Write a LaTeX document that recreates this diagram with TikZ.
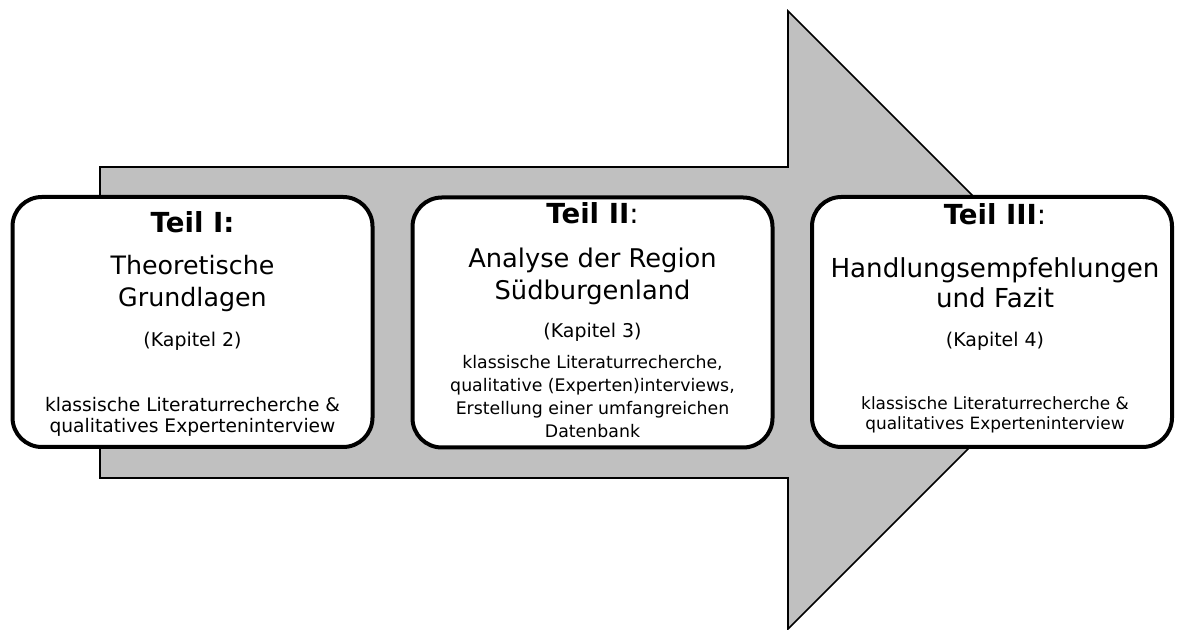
\documentclass[tikz,border=0pt]{standalone}
\usepackage{fontspec}
\setmainfont{DejaVu Sans}
\begin{document}
\begin{tikzpicture}[x=0.75pt,y=-0.75pt,
  phase/.style={draw=black,line width=3pt,rounded corners=22pt,fill=white,minimum width=270pt,minimum height=187.5pt,inner sep=0pt},
  ttl/.style={anchor=base,font=\fontsize{20.7}{24}\selectfont\bfseries},
  big/.style={anchor=base,align=center,font=\fontsize{19}{24}\selectfont},
  kap/.style={anchor=base,font=\fontsize{14.2}{17}\selectfont},
  meth/.style={anchor=base,align=center,font=\fontsize{14}{16.3}\selectfont},
]
\useasboundingbox (0,0) rectangle (1181,630);
% big arrow
\draw[fill={rgb,255:red,192;green,192;blue,192},line width=1.2pt,line join=miter]
  (100,167) -- (788,167) -- (788,11) -- (1097,320) -- (788,629) -- (788,478) -- (100,478) -- cycle;
% boxes
\node[phase] (p1) at (192.5,322) {};
\node[phase] (p2) at (592.5,322.5) {};
\node[phase] (p3) at (992,322) {};
% texts box 1 (multi-line nodes: anchor = baseline of last line)
\node[ttl] (t1) at (192.5,233) {Teil I:};
\node[big] (h1) at (192.5,307) {Theoretische\\Grundlagen};
\node[kap] (k1) at (192.5,347) {(Kapitel 2)};
\node[meth] (m1) at (192.5,433) {klassische Literaturrecherche \&\\qualitatives Experteninterview};
% texts box 2
\node[ttl] (t2) at (592.5,224) {Teil II\textmd{:}};
\node[big,font=\fontsize{19.3}{24}\selectfont] (h2) at (592.5,300) {Analyse der Region\\Südburgenland};
\node[kap] (k2) at (592.5,338) {(Kapitel 3)};
\node[meth,font=\fontsize{13}{17.3}\selectfont] (m2) at (592.5,438) {klassische Literaturrecherche,\\qualitative (Experten)interviews,\\Erstellung einer umfangreichen\\Datenbank};
% texts box 3
\node[ttl] (t3) at (995,225) {Teil III\textmd{:}};
\node[big,font=\fontsize{19.6}{22.5}\selectfont] (h3) at (995,308) {Handlungsempfehlungen\\und Fazit};
\node[kap] (k3) at (995,347) {(Kapitel 4)};
\node[meth,font=\fontsize{12.7}{15}\selectfont] (m3) at (995,430) {klassische Literaturrecherche \&\\qualitatives Experteninterview};
\end{tikzpicture}
\end{document}
